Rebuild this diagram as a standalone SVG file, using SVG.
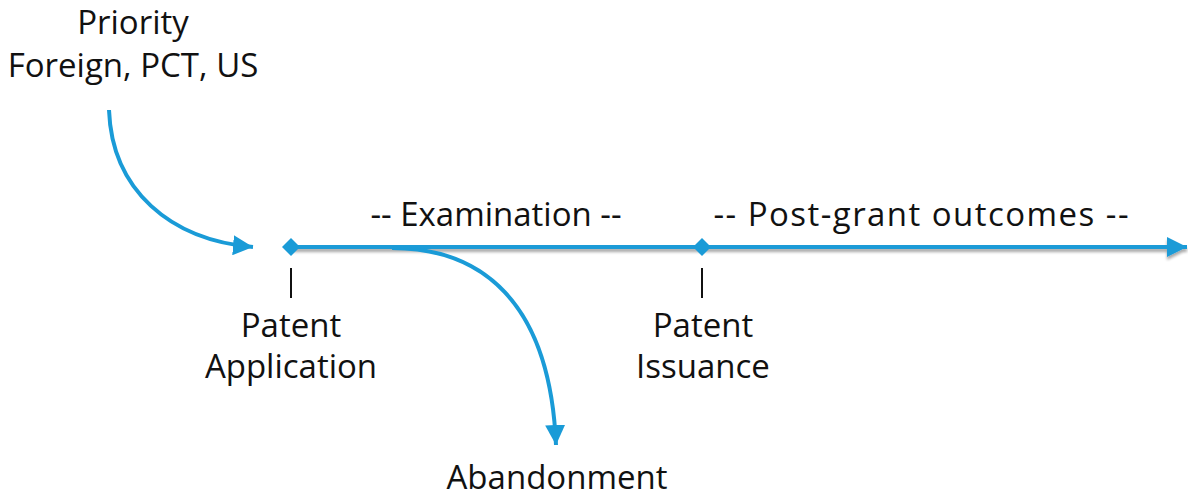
<svg xmlns="http://www.w3.org/2000/svg" width="1188" height="498" viewBox="0 0 1188 498">
<defs>
<style>
.t{font-family:"Open Sans","Noto Sans",sans-serif;font-size:33px;fill:#111;text-anchor:middle}
.c{fill:none;stroke:#1a9bd7;stroke-width:4}
.tick{stroke:#111;stroke-width:2}
.dm{fill:#1a9bd7}
</style>
<marker id="ah" viewBox="0 0 10 10" refX="10" refY="5" markerWidth="5" markerHeight="5" orient="auto" markerUnits="strokeWidth">
<path d="M0,0 L10,5 L0,10 z" fill="#1a9bd7"/>
</marker>
<filter id="sh" filterUnits="userSpaceOnUse" x="270" y="225" width="918" height="45">
<feGaussianBlur in="SourceAlpha" stdDeviation="1.5"/>
<feOffset dy="3"/>
<feComponentTransfer><feFuncA type="linear" slope="0.35"/></feComponentTransfer>
<feMerge><feMergeNode/><feMergeNode in="SourceGraphic"/></feMerge>
</filter>
</defs>
<rect width="1188" height="498" fill="#fff"/>
<g id="connectors">
<path class="c" d="M292,247 L1187,247" marker-end="url(#ah)" filter="url(#sh)"/>
<path class="c" d="M109,110 C112,190 170,240 253,247" marker-end="url(#ah)"/>
<path class="c" d="M392,248 C480,248 550,300 556,445" marker-end="url(#ah)"/>
</g>
<g id="priority">
<text class="t" x="133" y="34">Priority</text>
<text class="t" x="133" y="77">Foreign, PCT, US</text>
</g>
<g id="application">
<path class="dm" d="M291,238 L300,247 L291,256 L282,247 z"/>
<line class="tick" x1="291" y1="268" x2="291" y2="298"/>
<text class="t" x="291" y="337">Patent</text>
<text class="t" x="291" y="378">Application</text>
</g>
<g id="issuance">
<path class="dm" d="M702,238 L711,247 L702,256 L693,247 z"/>
<line class="tick" x1="702" y1="268" x2="702" y2="298"/>
<text class="t" x="703" y="337">Patent</text>
<text class="t" x="703" y="378">Issuance</text>
</g>
<g id="examination">
<text class="t" x="496" y="226">-- Examination --</text>
</g>
<g id="postgrant">
<text class="t" x="921" y="226" textLength="415" lengthAdjust="spacing">-- Post-grant outcomes --</text>
</g>
<g id="abandonment">
<text class="t" x="557" y="489">Abandonment</text>
</g>
</svg>
